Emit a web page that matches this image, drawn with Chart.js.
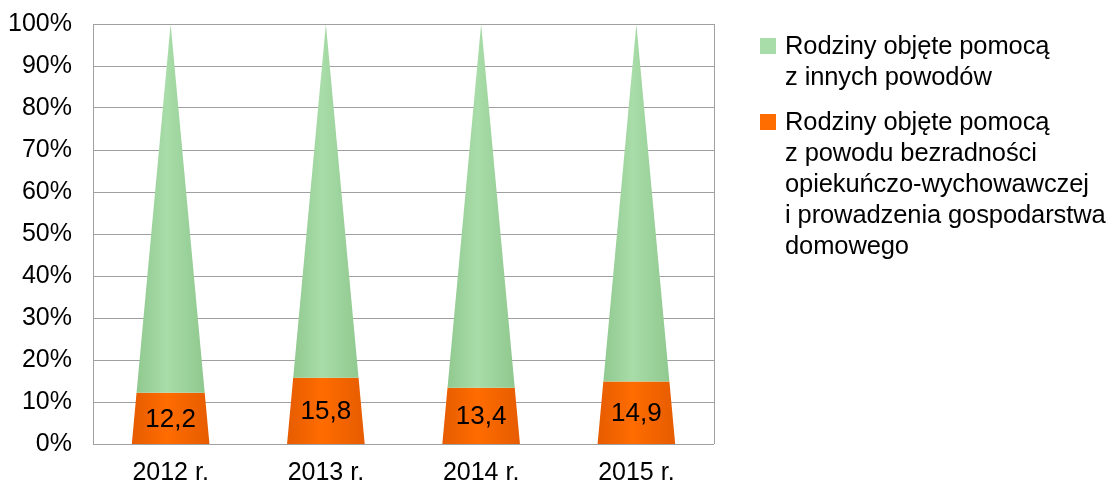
<!DOCTYPE html>
<html>
<head>
<meta charset="utf-8">
<script src="https://cdn.jsdelivr.net/npm/chart.js@4/dist/chart.umd.min.js"></script>
<style>
  body { margin: 0; background: #fff; overflow: hidden; }
  #wrap { position: relative; width: 1113px; height: 490px; }
  #legend { position: absolute; left: 760px; top: 30px; width: 360px; white-space: nowrap; font-family: "Liberation Sans", Arial, sans-serif; font-size: 25.5px; letter-spacing: -0.1px; color: #000; }
  .item { position: relative; padding-left: 25px; line-height: 31px; margin-bottom: 14px; }
  .box { position: absolute; left: 0; top: 8px; width: 16px; height: 16px; }
</style>
</head>
<body>
<div id="wrap">
  <canvas id="chart" width="1113" height="490"></canvas>
  <div id="legend"></div>
</div>
<script>
const years = ['2012 r.', '2013 r.', '2014 r.', '2015 r.'];
const helpless = [12.2, 15.8, 13.4, 14.9];
const other = [87.8, 84.2, 86.6, 85.1];
const helplessLabel = ['Rodziny objęte pomocą', 'z powodu bezradności', 'opiekuńczo-wychowawczej', 'i prowadzenia gospodarstwa', 'domowego'];
const otherLabel = ['Rodziny objęte pomocą', 'z innych powodów'];

const FONT = '"Liberation Sans", Arial, sans-serif';

// rysuje stożki zamiast zwykłych słupków
const conePlugin = {
  id: 'cones',
  beforeDatasetsDraw(chart) {
    const ctx = chart.ctx;
    const y = chart.scales.y;
    const x = chart.scales.x;
    const baseY = y.getPixelForValue(0);
    years.forEach((_, i) => {
      const el = chart.getDatasetMeta(0).data[i];
      const cx = x.getPixelForValue(i);
      const hw = el.width / 2;
      let cum = 0;
      chart.data.datasets.forEach(ds => {
        const v0 = cum, v1 = cum + ds.data[i];
        cum = v1;
        const w0 = hw * (1 - v0 / 100), w1 = hw * (1 - v1 / 100);
        const y0 = y.getPixelForValue(v0), y1 = y.getPixelForValue(v1);
        const g = ctx.createLinearGradient(cx - hw, 0, cx + hw, 0);
        g.addColorStop(0, ds.edge);
        g.addColorStop(0.45, ds.backgroundColor);
        g.addColorStop(1, ds.edge);
        ctx.beginPath();
        ctx.moveTo(cx - w0, y0);
        ctx.lineTo(cx + w0, y0);
        ctx.lineTo(cx + w1, y1);
        ctx.lineTo(cx - w1, y1);
        ctx.closePath();
        ctx.fillStyle = g;
        ctx.fill();
      });
      // etykieta danych w dolnym segmencie
      const v = helpless[i];
      ctx.fillStyle = '#000';
      ctx.font = '26px ' + FONT;
      ctx.textAlign = 'center';
      ctx.textBaseline = 'middle';
      ctx.fillText(String(v).replace('.', ','), cx, (baseY + y.getPixelForValue(v)) / 2 + 1);
    });
    // prawa krawędź obszaru wykresu
    const a = chart.chartArea;
    ctx.strokeStyle = '#a0a0a0';
    ctx.lineWidth = 1;
    ctx.beginPath();
    ctx.moveTo(Math.round(a.right) + 0.5, a.top);
    ctx.lineTo(Math.round(a.right) + 0.5, a.bottom);
    ctx.stroke();
    return false;
  }
};

const chart = new Chart(document.getElementById('chart'), {
  type: 'bar',
  data: {
    labels: years,
    datasets: [
      { label: helplessLabel, data: helpless, backgroundColor: '#ff6c00', edge: '#e65c00' },
      { label: otherLabel, data: other, backgroundColor: '#a8dca8', edge: '#8cc68c' }
    ]
  },
  options: {
    responsive: false,
    animation: false,
    layout: { padding: { top: 24, right: 399, left: 0, bottom: 0 } },
    plugins: { legend: { display: false }, tooltip: { enabled: false } },
    datasets: { bar: { categoryPercentage: 1, barPercentage: 0.5 } },
    scales: {
      x: {
        stacked: true,
        grid: { display: false },
        border: { display: false },
        ticks: { color: '#000', font: { family: FONT, size: 25 }, padding: 6 },
        afterFit(s) { s.height = 46; s.paddingLeft = 0; s.paddingRight = 0; }
      },
      y: {
        stacked: true,
        min: 0, max: 100,
        ticks: { stepSize: 10, color: '#000', font: { family: FONT, size: 25 }, padding: 21, callback: v => v + '%' },
        grid: { color: '#a0a0a0', drawTicks: false },
        border: { color: '#a0a0a0' },
        afterFit(s) { s.width = 93; s.paddingTop = 0; s.paddingBottom = 0; }
      }
    }
  },
  plugins: [conePlugin]
});

// legenda w HTML (wielowierszowe etykiety)
const legend = document.getElementById('legend');
[1, 0].forEach(k => {
  const ds = chart.data.datasets[k];
  const div = document.createElement('div');
  div.className = 'item';
  div.innerHTML = '<span class="box" style="background:' + ds.backgroundColor + '"></span>' + ds.label.join('<br>');
  legend.appendChild(div);
});
</script>
</body>
</html>
